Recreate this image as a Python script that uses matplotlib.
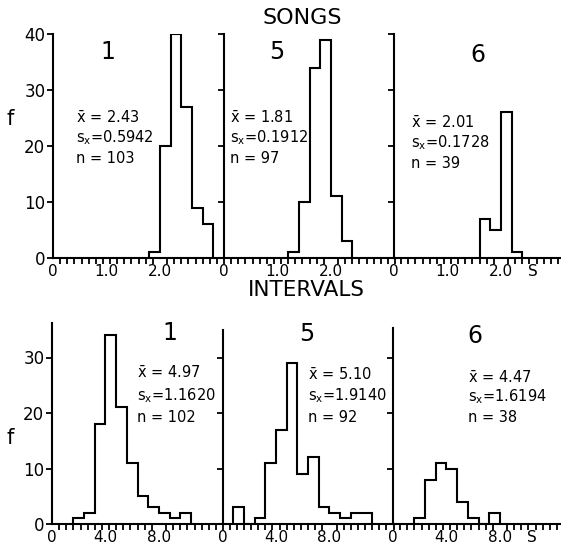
import matplotlib.pyplot as plt
import numpy as np

plt.rcParams['font.family'] = 'DejaVu Sans'
plt.rcParams['mathtext.default'] = 'regular'

# song duration histograms (s), 0.2 s bins
song_edges_1 = [1.8, 2.0, 2.2, 2.4, 2.6, 2.8, 3.0]
song_counts_1 = [1, 20, 40, 27, 9, 6]
song_edges_5 = [1.2, 1.4, 1.6, 1.8, 2.0, 2.2, 2.4]
song_counts_5 = [1, 10, 34, 39, 11, 3]
song_edges_6 = [1.6, 1.8, 2.0, 2.2, 2.4]
song_counts_6 = [7, 5, 26, 1]

# interval histograms (s), 0.8 s bins
interval_edges_1 = [1.6, 2.4, 3.2, 4.0, 4.8, 5.6, 6.4, 7.2, 8.0, 8.8, 9.6, 10.4]
interval_counts_1 = [1, 2, 18, 34, 21, 11, 5, 3, 2, 1, 2]
interval_edges_5 = [0.8, 1.6, 2.4, 3.2, 4.0, 4.8, 5.6, 6.4, 7.2, 8.0, 8.8, 9.6, 10.4, 11.2]
interval_counts_5 = [3, 0, 1, 11, 17, 29, 9, 12, 3, 2, 1, 2, 2]
interval_edges_6 = [1.6, 2.4, 3.2, 4.0, 4.8, 5.6, 6.4, 7.2, 8.0]
interval_counts_6 = [1, 8, 11, 10, 4, 1, 0, 2]

birds = ['1', '5', '6']
song_stats = [('2.43', '0.5942', '103'), ('1.81', '0.1912', '97'), ('2.01', '0.1728', '39')]
interval_stats = [('4.97', '1.1620', '102'), ('5.10', '1.9140', '92'), ('4.47', '1.6194', '38')]

song_ticks = [0, 1.0, 2.0]
song_ticklabels = ['0', '1.0', '2.0']
interval_ticks = [0, 4.0, 8.0]
interval_ticklabels = ['0', '4.0', '8.0']

W, H = 561, 550
fig = plt.figure(figsize=(W / 100, H / 100), dpi=100)


def axes_px(left, base, width, height):
    return fig.add_axes([left / W, (H - base) / H, width / W, height / H])


def text_px(x, y, s, **kw):
    fig.text(x / W, 1 - y / H, s, **kw)


def style(ax, xmax, ymax, spine_top, yticks, ticks, ticklabels, show_ylabels):
    ax.set_xlim(0, xmax)
    ax.set_ylim(0, ymax)
    for side in ['top', 'right']:
        ax.spines[side].set_visible(False)
    for side in ['left', 'bottom']:
        ax.spines[side].set_linewidth(1.5)
    ax.spines['left'].set_bounds(0, spine_top)
    ax.patch.set_visible(False)
    ax.set_xticks(np.linspace(0, xmax, 25), minor=True)
    ax.set_xticks(ticks)
    ax.set_xticklabels(ticklabels)
    ax.tick_params(axis='x', which='minor', direction='out', length=4.5, width=1.3)
    ax.tick_params(axis='x', which='major', length=0, pad=4.5, labelsize=11)
    ax.set_yticks(yticks)
    ax.tick_params(axis='y', direction='out', length=4.5, width=1.3, pad=1, labelsize=12)
    if not show_ylabels:
        ax.set_yticklabels([])


song_data = [(song_edges_1, song_counts_1), (song_edges_5, song_counts_5), (song_edges_6, song_counts_6)]
interval_data = [(interval_edges_1, interval_counts_1), (interval_edges_5, interval_counts_5),
                 (interval_edges_6, interval_counts_6)]

# top row: songs
for i, (lx, (edges, counts)) in enumerate(zip([53, 224, 394], song_data)):
    ax = axes_px(lx, 258, 171, 224)
    ax.stairs(counts, edges, color='black', linewidth=1.5)
    style(ax, 3.2, 40, 40, [0, 10, 20, 30, 40], song_ticks, song_ticklabels, i == 0)
    if i == 2:
        ax.annotate('S', xy=(2.6, 0), xycoords=('data', 'axes fraction'), xytext=(0, -13),
                    textcoords='offset pixels', ha='center', va='center', fontsize=11)

# bottom row: intervals
for i, (lx, top, (edges, counts)) in enumerate(zip([52, 222.5, 393], [36.2, 35, 35.3], interval_data)):
    ax = axes_px(lx, 524, 171, 36.2 * 5.55)
    ax.stairs(counts, edges, color='black', linewidth=1.5)
    style(ax, 12.8, 36.2, top, [0, 10, 20, 30], interval_ticks, interval_ticklabels, i == 0)
    if i == 2:
        ax.annotate('S', xy=(10.4, 0), xycoords=('data', 'axes fraction'), xytext=(0, -13),
                    textcoords='offset pixels', ha='center', va='center', fontsize=11)

text_px(302, 18, 'SONGS', ha='center', va='center', fontsize=16)
text_px(306, 290, 'INTERVALS', ha='center', va='center', fontsize=15.5)
text_px(10, 119, 'f', ha='center', va='center', fontsize=15)
text_px(10, 438, 'f', ha='center', va='center', fontsize=15)

for name, (x, y) in zip(birds, [(108, 52), (277, 52), (478, 55)]):
    text_px(x, y, name, ha='center', va='center', fontsize=17)
for name, (x, y) in zip(birds, [(170, 333), (307, 334), (475, 336)]):
    text_px(x, y, name, ha='center', va='center', fontsize=17)


def stats_block(x, ys, stats):
    mean, sd, n = stats
    lines = [r'$\bar{x}$ = ' + mean, r's$_x$=' + sd, 'n = ' + n]
    for y, s in zip(ys, lines):
        text_px(x, y, s, ha='left', va='center', fontsize=10.5)


stats_block(76, [118, 138, 158], song_stats[0])
stats_block(230, [118, 138, 158], song_stats[1])
stats_block(411, [123, 143, 164], song_stats[2])
stats_block(137, [373, 396, 417], interval_stats[0])
stats_block(308, [375, 396, 417], interval_stats[1])
stats_block(468, [378, 397, 418], interval_stats[2])

fig.savefig('out.png', dpi=100)
